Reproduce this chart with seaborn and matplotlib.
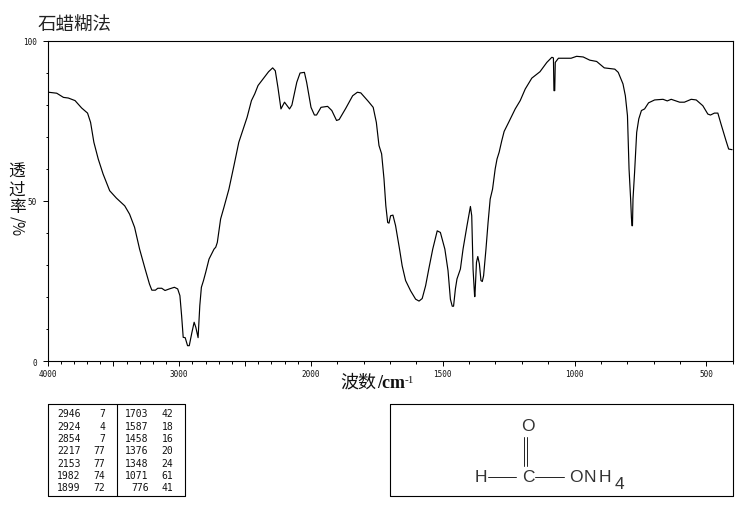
import matplotlib
matplotlib.use("Agg")
import matplotlib.pyplot as plt
import seaborn as sns
import numpy as np
import pandas as pd

# spectrum (wavenumber / cm-1, transmittance / %)
wavenumber = [3992, 3930, 3879, 3842, 3791, 3741, 3696, 3673, 3648, 3615, 3578, 3528, 3477, 3414, 3377, 3339,
              3301, 3259, 3226, 3208, 3181, 3163, 3133, 3108, 3075, 3037, 3012, 2995, 2982, 2970, 2955, 2937,
              2924, 2904, 2887, 2874, 2857, 2844, 2832, 2816, 2799, 2774, 2736, 2723, 2711, 2686, 2661, 2623,
              2585, 2548, 2510, 2485, 2452, 2427, 2402, 2359, 2322, 2291, 2271, 2251, 2228, 2201, 2163, 2145,
              2108, 2083, 2050, 2033, 2000, 1987, 1979, 1962, 1937, 1921, 1903, 1893, 1868, 1842, 1824, 1811,
              1782, 1764, 1752, 1742, 1732, 1723, 1716, 1709, 1704, 1698, 1689, 1679, 1664, 1654, 1641, 1622,
              1603, 1590, 1578, 1565, 1553, 1538, 1521, 1509, 1492, 1480, 1471, 1464, 1459, 1452, 1446, 1433,
              1423, 1408, 1395, 1390, 1385, 1379, 1378, 1372, 1367, 1361, 1355, 1350, 1345, 1336, 1328, 1320,
              1311, 1301, 1294, 1286, 1276, 1267, 1250, 1225, 1206, 1187, 1162, 1131, 1105, 1086, 1080, 1078,
              1075, 1073, 1061, 1013, 992, 967, 942, 916, 887, 847, 834, 816, 807, 799, 793, 787,
              784, 782, 780, 778, 772, 764, 756, 746, 734, 719, 696, 664, 648, 633, 601, 583,
              557, 538, 513, 494, 484, 469, 456, 444, 425, 415, 402]
transmittance = [83.9, 83.6, 82.3, 82.1, 81.3, 79.0, 77.4, 74.5, 68.3, 63.1, 58.4, 53.2, 50.9, 48.5, 45.9, 41.8,
                 35.0, 28.8, 24.1, 22.2, 22.2, 22.8, 22.8, 22.1, 22.6, 23.1, 22.6, 20.5, 14.2, 7.5, 7.4, 4.9,
                 4.9, 9.0, 12.2, 10.6, 7.4, 17.4, 23.1, 25.2, 27.8, 31.9, 35.0, 35.6, 37.1, 44.4, 48.0, 53.7,
                 61.0, 68.3, 73.0, 76.1, 81.3, 83.4, 86.0, 88.3, 90.3, 91.5, 90.6, 85.4, 78.7, 80.8, 78.7, 79.9,
                 87.0, 89.9, 90.1, 87.0, 79.2, 76.8, 76.8, 79.2, 79.5, 78.2, 75.1, 75.4, 78.9, 82.8, 83.9, 83.7,
                 81.0, 79.2, 74.5, 67.3, 64.7, 56.9, 48.5, 43.3, 43.1, 45.4, 45.6, 42.3, 35.0, 29.8, 25.2, 22.0,
                 19.4, 18.8, 19.6, 23.6, 28.8, 35.0, 40.7, 40.2, 35.0, 28.3, 19.4, 17.2, 17.2, 22.6, 25.7, 28.8,
                 35.0, 42.3, 48.3, 45.4, 28.8, 20.2, 20.2, 30.9, 32.7, 30.4, 25.2, 24.9, 26.7, 35.0, 43.3, 50.6,
                 53.7, 60.0, 63.1, 65.2, 68.8, 71.7, 74.5, 78.7, 81.3, 84.9, 88.3, 90.3, 93.2, 94.8, 94.6, 84.4,
                 84.4, 93.2, 94.5, 94.5, 95.1, 94.9, 93.9, 93.5, 91.5, 91.1, 90.1, 86.5, 82.8, 76.6, 60.0, 50.6,
                 44.9, 42.3, 42.3, 50.6, 58.9, 71.4, 75.6, 78.2, 78.7, 80.6, 81.5, 81.7, 81.2, 81.7, 80.8, 80.8,
                 81.7, 81.5, 79.7, 77.1, 76.8, 77.4, 77.4, 74.0, 68.8, 66.2, 66.0]

x_major = [4000, 3500, 3000, 2500, 2000, 1500, 1000, 500]
x_labels = ["4000", "", "3000", "", "2000", "1500", "1000", "500"]
y_major = [0, 50, 100]

peak_left = [("2946", "7"), ("2924", "4"), ("2854", "7"), ("2217", "77"), ("2153", "77"), ("1982", "74"), ("1899", "72")]
peak_right = [("1703", "42"), ("1587", "18"), ("1458", "16"), ("1376", "20"), ("1348", "24"), ("1071", "61"), ("776", "41")]

sns.set_style("white")
plt.rcParams["font.family"] = ["Noto Sans CJK SC", "DejaVu Sans"]

W, H = 738, 510
MONO = "DejaVu Sans Mono"


def expand(w):
    # spectrum scale: above 2000 cm-1 is compressed by half
    w = np.asarray(w, dtype=float)
    return np.where(w > 2000, 2000 + (w - 2000) * 0.5, w)


def shrink(v):
    v = np.asarray(v, dtype=float)
    return np.where(v > 2000, 2000 + (v - 2000) * 2.0, v)


fig = plt.figure(figsize=(W / 100, H / 100), dpi=100, facecolor="white")
ax = fig.add_axes([47.5 / W, 1 - 362.4 / H, 685.1 / W, 320.8 / H])

df = pd.DataFrame({"wavenumber": wavenumber, "T": transmittance})
sns.lineplot(data=df, x="wavenumber", y="T", ax=ax, color="black", lw=0.85, sort=False, estimator=None)

ax.set_xscale("function", functions=(expand, shrink))
ax.set_xlim(4000, 400)
ax.set_ylim(0, 100)
ax.set_xlabel("")
ax.set_ylabel("")

ax.set_xticks(x_major)
ax.set_xticklabels(x_labels, family=MONO, fontsize=5.5)
ax.set_xticks(np.arange(400, 4000, 100), minor=True)
ax.set_yticks(y_major)
ax.set_yticklabels([str(v) for v in y_major], family=MONO, fontsize=5.5)
ax.set_yticks(np.arange(0, 101, 10), minor=True)
ax.tick_params(axis="x", which="major", bottom=True, length=3.6, width=0.7, pad=2, color="black", labelcolor="#111111")
ax.tick_params(axis="x", which="minor", bottom=True, length=1.8, width=0.7, color="black")
ax.tick_params(axis="y", which="major", left=True, length=3.6, width=0.7, pad=4, color="black", labelcolor="#111111")
ax.tick_params(axis="y", which="minor", left=True, length=1.5, width=0.7, color="black")
for s in ax.spines.values():
    s.set_visible(True)
    s.set_color("black")
    s.set_linewidth(0.8)

# overlay in picture pixels for titles, peak table and structure
ov = fig.add_axes([0, 0, 1, 1], facecolor="none")
ov.set_xlim(0, W)
ov.set_ylim(H, 0)
ov.axis("off")

ov.text(38, 26, "石蜡糊法", fontsize=13.3, color="#222222", ha="left", va="center")
for ch, y in zip("透过率", [172.5, 190, 207.5]):
    ov.text(17, y, ch, fontsize=12, color="#111111", ha="center", va="center")
ov.text(17, 226, "/%", fontsize=11, color="#111111", ha="center", va="center", rotation=270)

ov.text(340, 388, "波数", fontsize=13, color="#111111", ha="left", va="baseline")
ov.text(377, 388, "/cm", family="Liberation Serif", fontsize=13, weight="bold", color="#111111", ha="left", va="baseline")
ov.text(405, 383, "-1", family="Liberation Serif", fontsize=8, color="#111111", ha="left", va="baseline")

# peak table
ov.plot([47.5, 184.5, 184.5, 47.5, 47.5], [405, 405, 497.3, 497.3, 405], color="black", lw=0.8)
ov.plot([116.7, 116.7], [405, 497.3], color="black", lw=0.8)
for i, ((a, b), (c, d)) in enumerate(zip(peak_left, peak_right)):
    y = 414.3 + i * 12.35
    ov.text(80.5, y, a, family=MONO, fontsize=7, ha="right", va="center", color="#111111")
    ov.text(105.5, y, b, family=MONO, fontsize=7, ha="right", va="center", color="#111111")
    ov.text(148.5, y, c, family=MONO, fontsize=7, ha="right", va="center", color="#111111")
    ov.text(173.5, y, d, family=MONO, fontsize=7, ha="right", va="center", color="#111111")

# structure box
ov.plot([390.3, 732.6, 732.6, 390.3, 390.3], [405, 405, 497.3, 497.3, 405], color="black", lw=0.8)
CHEM = dict(family="Liberation Sans", fontsize=12.5, color="#333333", ha="center", va="center")
ov.text(528, 427, "O", **CHEM)
ov.text(528, 478, "C", **CHEM)
ov.text(481, 478, "H", **CHEM)
ov.text(576, 478, "O", **CHEM)
ov.text(590, 478, "N", **CHEM)
ov.text(605, 478, "H", **CHEM)
ov.text(619, 485, "4", **CHEM)
ov.plot([488, 516], [478, 478], color="#222222", lw=0.7)
ov.plot([535, 564], [478, 478], color="#222222", lw=0.7)
ov.plot([523.5, 523.5], [438, 467], color="#222222", lw=0.7)
ov.plot([527, 527], [438, 467], color="#222222", lw=0.7)

fig.savefig("out.png", dpi=100, facecolor="white")
